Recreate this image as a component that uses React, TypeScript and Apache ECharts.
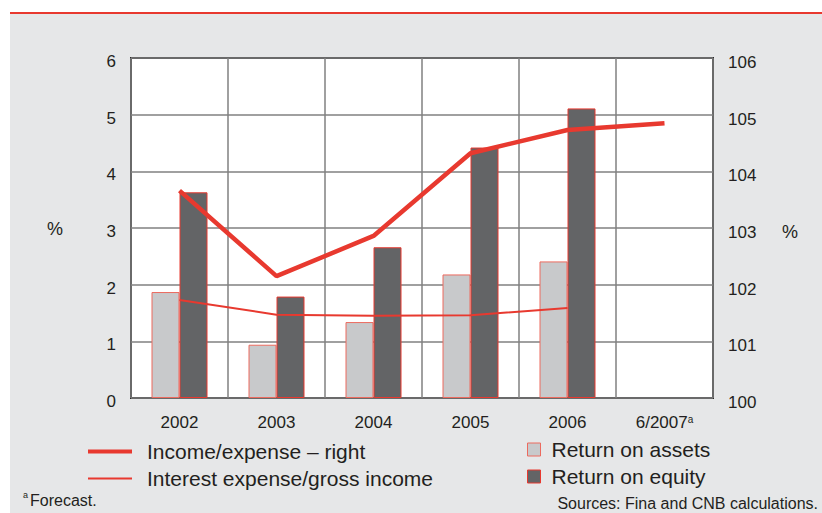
import React, { useEffect, useRef } from 'react';
import * as echarts from 'echarts';

const categories = ['2002', '2003', '2004', '2005', '2006', '6/2007'];
const returnOnAssets = [1.87, 0.94, 1.34, 2.18, 2.41, null];
const returnOnEquity = [3.63, 1.79, 2.66, 4.42, 5.11, null];
const incomeExpense = [103.66, 102.15, 102.86, 104.32, 104.73, 104.85];
const interestExpense = [1.73, 1.47, 1.45, 1.46, 1.59, null];

const RED = '#e8392f';
const TEXT = '#231f20';
const FONT = '"Liberation Sans", Arial, Helvetica, sans-serif';

export default function App() {
  const ref = useRef<HTMLDivElement>(null);
  useEffect(() => {
    const chart = echarts.init(ref.current!, null, { renderer: 'svg' });
    chart.setOption({
      animation: false,
      textStyle: { fontFamily: FONT, color: TEXT },
      graphic: [
        { type: 'rect', z: -10, silent: true, shape: { x: 10, y: 14, width: 812, height: 499 }, style: { fill: '#e6e7e8' } },
        { type: 'rect', z: -10, silent: true, shape: { x: 10, y: 12, width: 812, height: 2 }, style: { fill: RED } },
        { type: 'text', x: 55, y: 229, style: { text: '%', fontSize: 18, fontFamily: FONT, fill: TEXT, align: 'center', verticalAlign: 'middle' } },
        { type: 'text', x: 790, y: 232, style: { text: '%', fontSize: 18, fontFamily: FONT, fill: TEXT, align: 'center', verticalAlign: 'middle' } },
        { type: 'text', x: 23, y: 495, style: { text: 'a', fontSize: 9, fontFamily: FONT, fill: TEXT, align: 'left', verticalAlign: 'middle' } },
        { type: 'text', x: 30, y: 500, style: { text: 'Forecast.', fontSize: 16, fontFamily: FONT, fill: TEXT, align: 'left', verticalAlign: 'middle' } },
        { type: 'text', x: 818, y: 503, style: { text: 'Sources: Fina and CNB calculations.', fontSize: 16, fontFamily: FONT, fill: TEXT, align: 'right', verticalAlign: 'middle' } },
      ],
      grid: {
        left: 131, top: 58, width: 582, height: 340,
        show: true, backgroundColor: '#ffffff', borderColor: '#2b2b2b', borderWidth: 2,
      },
      legend: [
        {
          left: 88, top: 441, padding: 0, itemWidth: 44, itemHeight: 4, icon: 'rect',
          data: [{ name: 'Income/expense – right', itemStyle: { color: RED } }],
          textStyle: { fontSize: 21, color: TEXT, fontFamily: FONT, padding: [0, 0, 0, 10] },
        },
        {
          left: 88, top: 468, padding: 0, itemWidth: 44, itemHeight: 2, icon: 'rect',
          data: [{ name: 'Interest expense/gross income', itemStyle: { color: RED } }],
          textStyle: { fontSize: 21, color: TEXT, fontFamily: FONT, padding: [0, 0, 0, 10] },
        },
        {
          left: 527, top: 439, padding: 0, itemWidth: 13, itemHeight: 13, icon: 'rect',
          data: [{ name: 'Return on assets', itemStyle: { color: '#c8c9cb', borderColor: '#ec6a5e', borderWidth: 1 } }],
          textStyle: { fontSize: 21, color: TEXT, fontFamily: FONT, padding: [0, 0, 0, 6] },
        },
        {
          left: 527, top: 466, padding: 0, itemWidth: 13, itemHeight: 13, icon: 'rect',
          data: [{ name: 'Return on equity', itemStyle: { color: '#636466', borderColor: RED, borderWidth: 1 } }],
          textStyle: { fontSize: 21, color: TEXT, fontFamily: FONT, padding: [0, 0, 0, 6] },
        },
      ],
      xAxis: {
        type: 'category',
        data: categories,
        boundaryGap: true,
        axisLine: { show: false },
        axisTick: { show: false },
        splitLine: { show: true, interval: 0, lineStyle: { color: '#808080', width: 1.5 } },
        axisLabel: {
          interval: 0,
          fontSize: 17, color: TEXT, fontFamily: FONT, margin: 16,
          formatter: (v: string) => (v === '6/2007' ? '6/2007{sup|a}' : v),
          rich: { sup: { fontSize: 10, verticalAlign: 'top', color: TEXT, fontFamily: FONT } },
        },
      },
      yAxis: [
        {
          type: 'value', min: 0, max: 6, interval: 1,
          axisLine: { show: false }, axisTick: { show: false },
          splitLine: { show: true, lineStyle: { color: '#808080', width: 1.5 } },
          axisLabel: {
            color: TEXT, fontFamily: FONT, margin: 15,
            formatter: '{v|{value}}',
            rich: { v: { fontSize: 17, color: TEXT, fontFamily: FONT, padding: [7, 0, 0, 0] } },
          },
        },
        {
          type: 'value', min: 100, max: 106, interval: 1,
          axisLine: { show: false }, axisTick: { show: false },
          splitLine: { show: false },
          axisLabel: {
            color: TEXT, fontFamily: FONT, margin: 15,
            formatter: '{v|{value}}',
            rich: { v: { fontSize: 17, color: TEXT, fontFamily: FONT, padding: [9, 0, 0, 0] } },
          },
        },
      ],
      series: [
        {
          name: 'Return on assets', type: 'bar', data: returnOnAssets, barWidth: 28, barGap: '0%',
          itemStyle: { color: '#c8c9cb', borderColor: '#ec6a5e', borderWidth: 1 },
        },
        {
          name: 'Return on equity', type: 'bar', data: returnOnEquity, barWidth: 28, barGap: '0%',
          itemStyle: { color: '#636466', borderColor: RED, borderWidth: 1 },
        },
        {
          name: 'Interest expense/gross income', type: 'line', data: interestExpense, yAxisIndex: 0,
          showSymbol: false, symbol: 'none', z: 3,
          lineStyle: { color: RED, width: 2 }, itemStyle: { color: RED },
        },
        {
          name: 'Income/expense – right', type: 'line', data: incomeExpense, yAxisIndex: 1,
          showSymbol: false, symbol: 'none', z: 4,
          lineStyle: { color: RED, width: 4.5 }, itemStyle: { color: RED },
        },
      ],
    });
    return () => chart.dispose();
  }, []);
  return <div ref={ref} style={{ position: 'absolute', left: 0, top: 0, width: 822, height: 513 }} />;
}
